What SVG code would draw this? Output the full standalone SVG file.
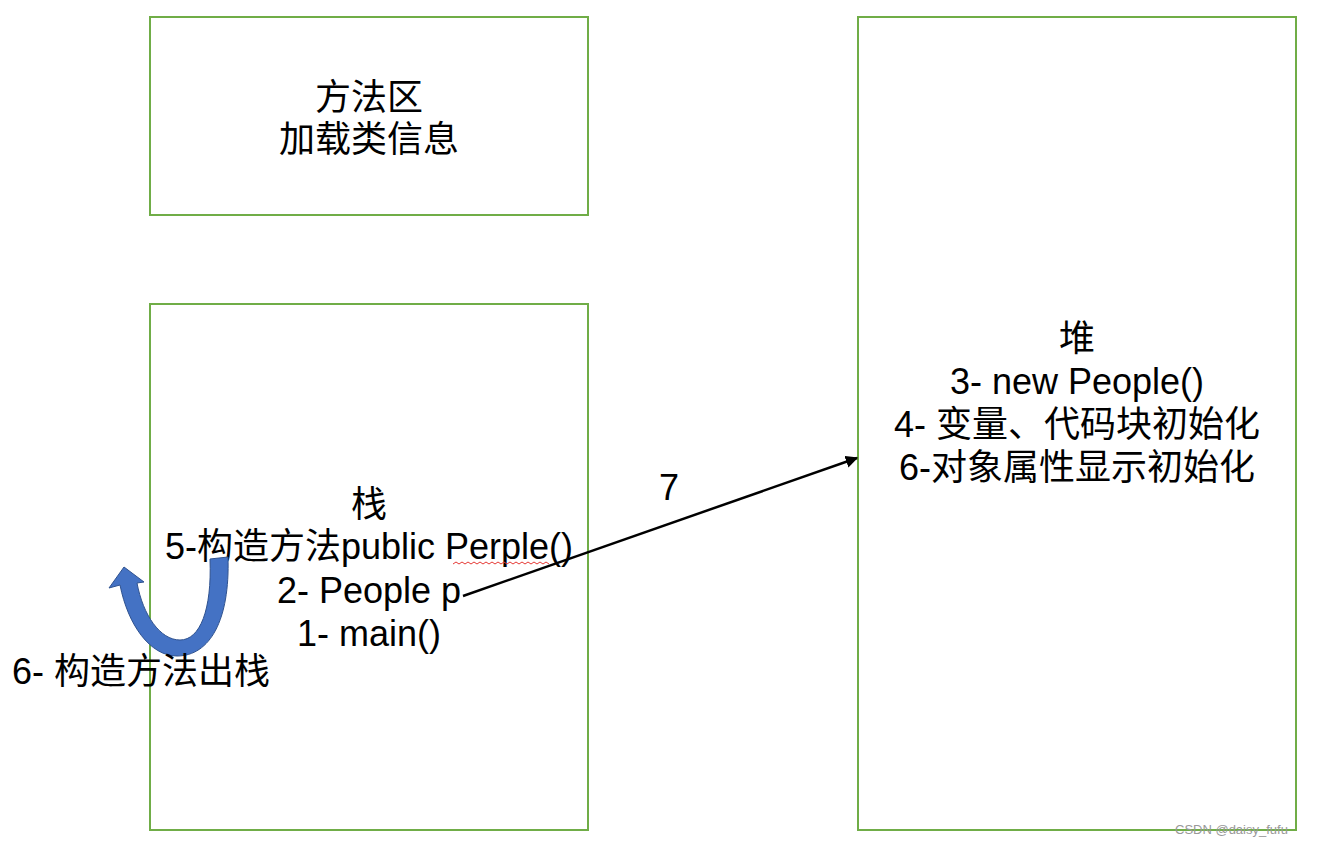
<svg xmlns="http://www.w3.org/2000/svg" width="1322" height="846" viewBox="0 0 1322 846">
<style>
.box{fill:#fff;stroke:#70AD47;stroke-width:2}
.t{font-family:"Liberation Sans","Noto Sans CJK SC",sans-serif;font-size:36px;fill:#000;text-anchor:middle}
.wm{font-family:"Liberation Sans","Noto Sans CJK SC",sans-serif;font-size:13px;fill:#999}
</style>
<defs>
<marker id="ah" viewBox="0 0 10 10" refX="9" refY="5" markerWidth="5" markerHeight="5" orient="auto" markerUnits="strokeWidth">
<path d="M0,0 L10,5 L0,10 Z" fill="#000"/>
</marker>
</defs>
<rect width="1322" height="846" fill="#fff"/>
<g id="method-area">
<rect class="box" x="150" y="17" width="438" height="198"/>
<text class="t" x="369" y="110">方法区</text>
<text class="t" x="369" y="152">加载类信息</text>
</g>
<g id="stack">
<rect class="box" x="150" y="304" width="438" height="526"/>
<text class="t" x="369" y="517">栈</text>
<text class="t" x="369" y="559">5-构造方法public Perple()</text>
<text class="t" x="369" y="603">2- People p</text>
<text class="t" x="369" y="646">1- main()</text>
<path d="M453,564 l3,-2 l3,2 l3,-2 l3,2 l3,-2 l3,2 l3,-2 l3,2 l3,-2 l3,2 l3,-2 l3,2 l3,-2 l3,2 l3,-2 l3,2 l3,-2 l3,2 l3,-2 l3,2 l3,-2 l3,2 l3,-2 l3,2 l3,-2 l3,2 l3,-2 l3,2 l3,-2 l3,2 l3,-2 l3,2" fill="none" stroke="#e53935" stroke-width="1"/>
</g>
<g id="heap">
<rect class="box" x="858" y="17" width="438" height="813"/>
<text class="t" x="1077" y="351">堆</text>
<text class="t" x="1077" y="394">3- new People()</text>
<text class="t" x="1077" y="437">4- 变量、代码块初始化</text>
<text class="t" x="1077" y="480">6-对象属性显示初始化</text>
</g>
<g id="pop-arrow">
<path d="M228,557 C230,620 210,656 177,656 C150,656 128,625 120,585 L109,588 L124,567 L144,582 L137,583 C143,615 160,640 180,640 C200,640 212,610 210,559 Z" fill="#4472C4" stroke="#2F528F" stroke-width="1"/>
<text class="t" x="12" y="684" style="text-anchor:start">6- 构造方法出栈</text>
</g>
<g id="connectors">
<line x1="463" y1="596" x2="857" y2="458" stroke="#000" stroke-width="2.5" marker-end="url(#ah)"/>
<text class="t" x="669" y="500">7</text>
</g>
<text class="wm" x="1175" y="834">CSDN @daisy_fufu</text>
</svg>
